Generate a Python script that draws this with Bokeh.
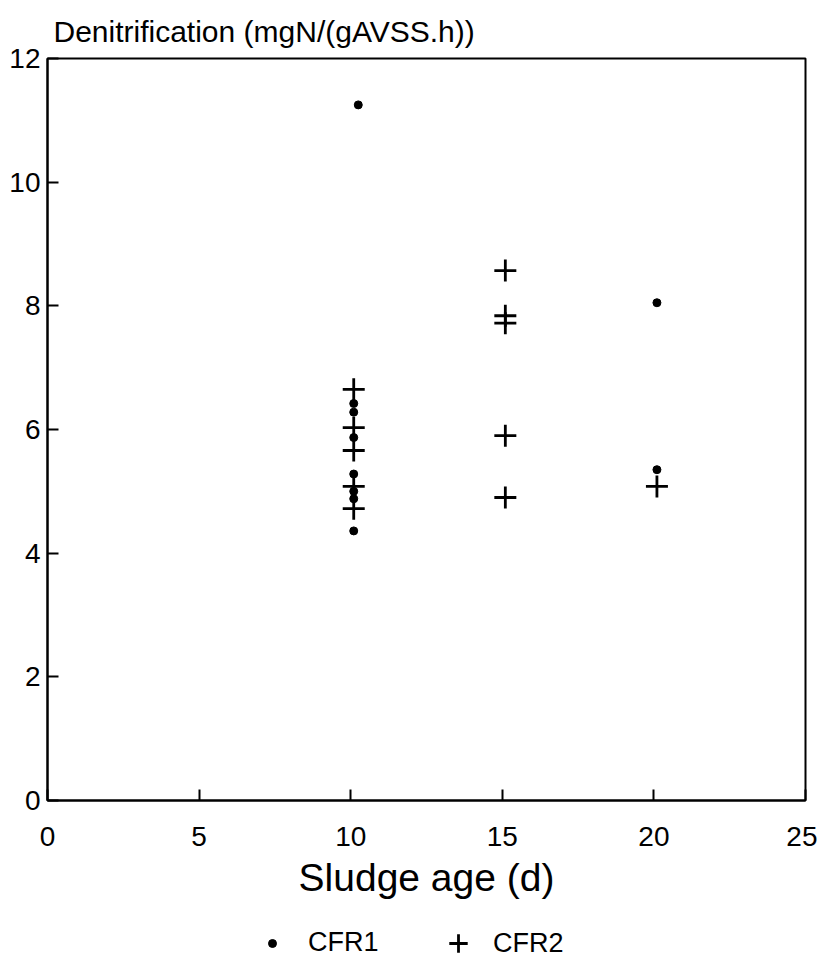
from bokeh.plotting import figure
from bokeh.layouts import column
from bokeh.models import Range1d, Legend, LegendItem, FixedTicker, Title
from bokeh.embed import file_html
from bokeh.resources import INLINE

# Data
cfr1_x = [10.25, 10.1, 10.1, 10.1, 10.1, 10.1, 10.1, 10.1, 20.1, 20.1]
cfr1_y = [11.25, 6.42, 6.28, 5.87, 5.28, 5.0, 4.88, 4.36, 8.05, 5.35]

cfr2_x = [10.1, 10.1, 10.1, 10.1, 10.1, 15.1, 15.1, 15.1, 15.1, 15.1, 20.1]
cfr2_y = [6.65, 6.03, 5.66, 5.08, 4.72, 8.57, 7.84, 7.72, 5.9, 4.9, 5.08]

x_ticks = [0, 5, 10, 15, 20, 25]
y_ticks = [0, 2, 4, 6, 8, 10, 12]

FONT = "Liberation Sans"
DOT = dict(marker="circle", size=8, fill_color="black", line_color="black")
PLUS = dict(marker="cross", size=22, line_color="black", line_width=2.8)

p = figure(width=817, height=910, output_backend="svg", toolbar_location=None,
           x_range=Range1d(0, 25), y_range=Range1d(0, 12))
p.min_border_left = 47
p.min_border_right = 12
p.min_border_top = 58
p.min_border_bottom = 110
p.background_fill_color = "white"
p.border_fill_color = "white"
p.outline_line_color = "black"
p.outline_line_width = 2
p.xgrid.visible = False
p.ygrid.visible = False

p.title = Title(text="Denitrification (mgN/(gAVSS.h))", align="left", offset=6,
                standoff=17, vertical_align="top", text_font=FONT,
                text_font_size="30px", text_font_style="normal", text_color="black")

for ax in (p.xaxis[0], p.yaxis[0]):
    ax.axis_line_width = 2
    ax.axis_line_color = "black"
    ax.major_tick_in = 11
    ax.major_tick_out = 0
    ax.major_tick_line_width = 2
    ax.major_tick_line_color = "black"
    ax.minor_tick_line_color = None
    ax.major_label_text_font = FONT
    ax.major_label_text_color = "black"
    ax.major_label_text_font_size = "28px"

p.xaxis.ticker = FixedTicker(ticks=x_ticks)
p.yaxis.ticker = FixedTicker(ticks=y_ticks)
p.xaxis.major_label_standoff = 26
p.yaxis.major_label_standoff = 7
p.xaxis.axis_label = "Sludge age (d)"
p.xaxis.axis_label_text_font = FONT
p.xaxis.axis_label_text_font_style = "normal"
p.xaxis.axis_label_text_font_size = "39px"
p.xaxis.axis_label_text_color = "black"
p.xaxis.axis_label_standoff = 7

p.scatter(cfr1_x, cfr1_y, **DOT)
p.scatter(cfr2_x, cfr2_y, **PLUS)

# Legend strip under the chart (its renderers sit outside the visible range)
q = figure(width=817, height=56, output_backend="svg", toolbar_location=None,
           x_range=Range1d(0, 1), y_range=Range1d(0, 1), min_border=0)
q.axis.visible = False
q.grid.visible = False
q.outline_line_color = None
q.background_fill_color = "white"
q.border_fill_color = "white"
l1 = q.scatter(x=[-10], y=[-10], **DOT)
l2 = q.scatter(x=[-10], y=[-10], **PLUS)

LEG = dict(orientation="horizontal", padding=0, margin=0,
           label_text_font=FONT, label_text_font_size="27px",
           label_text_color="black", border_line_alpha=0, background_fill_alpha=0)
leg1 = Legend(items=[LegendItem(label="CFR1", renderers=[l1])],
              location=(215, 8), label_standoff=26,
              glyph_width=20, glyph_height=30, **LEG)
leg2 = Legend(items=[LegendItem(label="CFR2", renderers=[l2])],
              location=(388, 0), label_standoff=12,
              glyph_width=46, glyph_height=46, **LEG)
q.add_layout(leg1)
q.add_layout(leg2)

layout = column(p, q, spacing=0)
open("out.html", "w").write(file_html(layout, INLINE))
